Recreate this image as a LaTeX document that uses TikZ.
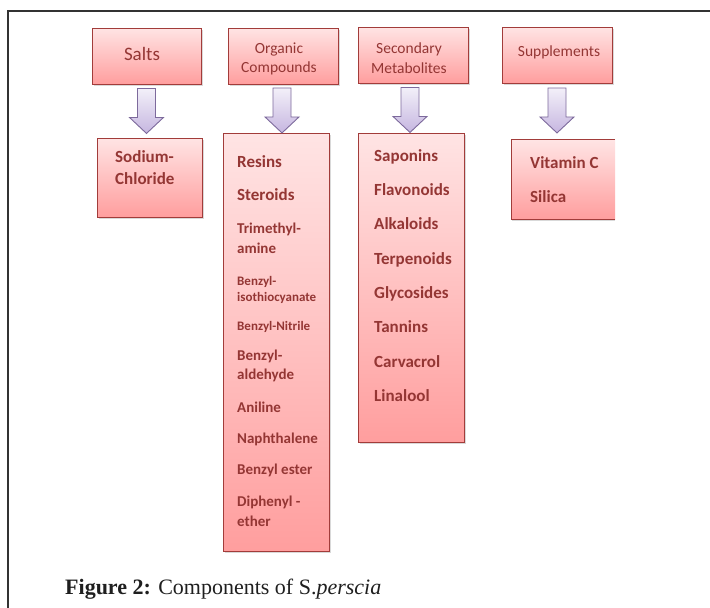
\documentclass[tikz,border=0pt]{standalone}
\usepackage{fontspec}
\setmainfont{Carlito}
\newfontfamily\capfont{Liberation Serif}
\usetikzlibrary{calc,shadows}
\definecolor{txtc}{HTML}{943634}
\definecolor{boxline}{HTML}{A23C3A}
\definecolor{boxtop}{HTML}{FFE4E4}
\definecolor{boxbot}{HTML}{FF9E9E}
\definecolor{arrtop}{HTML}{F3F0F9}
\definecolor{arrbot}{HTML}{C6B6E0}
\definecolor{arrline}{HTML}{7D6A9C}
\tikzset{
  hbox/.style={draw=boxline, line width=0.9pt, top color=boxtop, bottom color=boxbot,
    inner sep=0pt, drop shadow={shadow xshift=1.5pt, shadow yshift=-1.5pt, opacity=0.3}},
  lbox/.style={hbox},
  htext/.style={text=txtc, inner sep=0pt, anchor=base, font=\fontsize{15.5}{18}\selectfont},
  itemA/.style={text=txtc, inner sep=0pt, anchor=base west, font=\bfseries\fontsize{17}{20}\selectfont},
  itemB/.style={text=txtc, inner sep=0pt, anchor=base west, font=\bfseries\fontsize{15}{18}\selectfont},
  itemC/.style={text=txtc, inner sep=0pt, anchor=base west, font=\bfseries\fontsize{13}{15}\selectfont},
  blockarrow/.pic={\draw[draw=arrline, line width=0.9pt, top color=arrtop, bottom color=arrbot, line join=miter]
    (-9,0) -- (9,0) -- (9,29) -- (17,29) -- (0,45) -- (-17,29) -- (-9,29) -- cycle;}
}
\begin{document}
\begin{tikzpicture}[x=1pt,y=-1pt]
\useasboundingbox (0,0) rectangle (710,608);
% frame
\draw[line width=1.2pt, draw=black!80] (8,608) -- (8,11) -- (710,11);

% headers
\node[hbox, minimum width=109pt, minimum height=56pt] (salts) at (146.5,56) {};
\node[hbox, minimum width=110pt, minimum height=56pt] (org) at (283,56) {};
\node[hbox, minimum width=110pt, minimum height=56pt] (sec) at (413,55) {};
\node[hbox, minimum width=110pt, minimum height=56pt] (sup) at (557,55) {};
\node[htext, font=\fontsize{19}{22}\selectfont] (saltsT) at (142,60) {Salts};
\node[htext] (orgT1) at (279,53) {Organic};
\node[htext] (orgT2) at (279,72) {Compounds};
\node[htext] (secT1) at (409,53) {Secondary};
\node[htext] (secT2) at (409,73) {Metabolites};
\node[htext] (supT) at (559,56) {Supplements};

% list boxes
\node[lbox, minimum width=105pt, minimum height=79pt] (sod) at (149.5,177.5) {};
\node[lbox, minimum width=106pt, minimum height=418pt] (orgL) at (276,342) {};
\node[lbox, minimum width=106pt, minimum height=309pt] (secL) at (411,287.5) {};
\node[draw=none, top color=boxtop, bottom color=boxbot, inner sep=0pt,
      minimum width=103pt, minimum height=79pt,
      drop shadow={shadow xshift=0pt, shadow yshift=-1.5pt, opacity=0.3}] (supL) at (563.5,179.5) {};
\draw[draw=boxline, line width=0.9pt] (supL.north east) -- (supL.north west) -- (supL.south west) -- (supL.south east);

% arrows
\pic at ($(salts.south)+(0,4)$) {blockarrow};
\pic at ($(org.south)+(-1,3.5)$) {blockarrow};
\pic at ($(sec.south)+(-3,4)$) {blockarrow};
\pic at ($(sup.south)+(0,4.5)$) {blockarrow};

% salts list
\node[itemA] (s1) at (115,162) {Sodium-};
\node[itemA] (s2) at (115,184) {Chloride};

% organic list
\node[itemA] (o1) at (237,167) {Resins};
\node[itemA] (o2) at (237,200) {Steroids};
\node[itemB] (o3) at (237,233) {Trimethyl-};
\node[itemB] (o4) at (237,253) {amine};
\node[itemC] (o5) at (237,285) {Benzyl-};
\node[itemC] (o6) at (237,301) {isothiocyanate};
\node[itemC] (o7) at (237,330) {Benzyl-Nitrile};
\node[itemB] (o8) at (237,360) {Benzyl-};
\node[itemB] (o9) at (237,379) {aldehyde};
\node[itemB] (o10) at (237,412) {Aniline};
\node[itemB] (o11) at (237,443) {Naphthalene};
\node[itemB] (o12) at (237,474) {Benzyl ester};
\node[itemB] (o13) at (237,506) {Diphenyl -};
\node[itemB] (o14) at (237,526) {ether};

% secondary list
\node[itemA] (m1) at (374,161) {Saponins};
\node[itemA] (m2) at (374,195) {Flavonoids};
\node[itemA] (m3) at (374,229) {Alkaloids};
\node[itemA] (m4) at (374,264) {Terpenoids};
\node[itemA] (m5) at (374,298) {Glycosides};
\node[itemA] (m6) at (374,332) {Tannins};
\node[itemA] (m7) at (374,367) {Carvacrol};
\node[itemA] (m8) at (374,401) {Linalool};

% supplements list
\node[itemA] (v1) at (530,168) {Vitamin C};
\node[itemA] (v2) at (530,202) {Silica};

% caption
\node[inner sep=0pt, anchor=base west, font=\capfont\fontsize{22}{26}\selectfont, text=black!88] (cap) at (65,594)
  {\textbf{Figure 2:} Components of S.\textit{perscia}};
\end{tikzpicture}
\end{document}
